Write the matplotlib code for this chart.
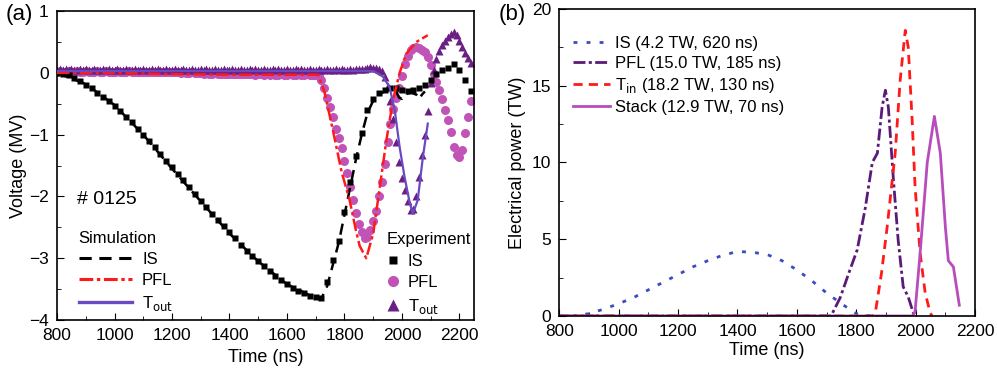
import numpy as np
import matplotlib
matplotlib.use('Agg')
from matplotlib import pyplot as plt
from matplotlib.ticker import MultipleLocator
from matplotlib.lines import Line2D

plt.rcParams['font.family'] = ['Liberation Sans', 'DejaVu Sans']
plt.rcParams['axes.unicode_minus'] = True

# (a) experiment IS, sampled every 20 ns from 800 to 2240 ns
t_is_exp = np.arange(800, 2241, 20)
is_exp = [0.00, -0.01, -0.04, -0.08, -0.13, -0.19, -0.25, -0.32, -0.39, -0.46,
          -0.53, -0.62, -0.71, -0.80, -0.90, -1.00, -1.10, -1.20, -1.31, -1.42,
          -1.53, -1.63, -1.74, -1.85, -1.96, -2.07, -2.17, -2.28, -2.38, -2.48,
          -2.58, -2.68, -2.78, -2.88, -2.97, -3.05, -3.13, -3.21, -3.28, -3.35,
          -3.42, -3.48, -3.53, -3.57, -3.61, -3.63, -3.64, -3.38, -3.03, -2.72,
          -2.25, -1.76, -1.35, -0.98, -0.60, -0.42, -0.33, -0.27, -0.24, -0.25,
          -0.28, -0.30, -0.28, -0.25, -0.20, -0.12, -0.02, 0.05, 0.08, 0.15,
          0.05, -0.12, -0.29]

# (a) experiment PFL and Tout, sampled every 10 ns from 800 to 2240 ns
t_fine = np.arange(800, 2241, 10)
pfl_exp = [0.02, 0.03, 0.02, 0.02, 0.03, 0.02, 0.02, 0.03, 0.02, 0.02,   # 800
           0.03, 0.02, 0.02, 0.02, 0.03, 0.02, 0.02, 0.03, 0.02, 0.02,   # 900
           0.02, 0.03, 0.02, 0.02, 0.02, 0.03, 0.02, 0.02, 0.02, 0.02,   # 1000
           0.02, 0.02, 0.01, 0.02, 0.02, 0.01, 0.02, 0.01, 0.01, 0.02,   # 1100
           0.01, 0.01, 0.01, 0.00, 0.01, 0.00, 0.00, 0.01, 0.00, 0.00,   # 1200
           0.00, -0.01, 0.00, -0.01, -0.01, 0.00, -0.01, -0.01, -0.02, -0.01,  # 1300
           -0.01, -0.02, -0.01, -0.02, -0.02, -0.01, -0.02, -0.02, -0.02, -0.03,  # 1400
           -0.02, -0.02, -0.03, -0.02, -0.03, -0.02, -0.03, -0.03, -0.02, -0.03,  # 1500
           -0.03, -0.02, -0.03, -0.03, -0.02, -0.03, -0.03, -0.02, -0.03, -0.03,  # 1600
           -0.03, -0.05, -0.12, -0.25, -0.40, -0.55, -0.72, -0.90, -1.06, -1.22,  # 1700
           -1.42, -1.62, -1.84, -2.06, -2.26, -2.45, -2.58, -2.67, -2.65, -2.55,  # 1800
           -2.40, -2.24, -2.00, -1.76, -1.48, -1.12, -0.82, -0.58, -0.40, -0.25,  # 1900
           -0.05, 0.14, 0.28, 0.37, 0.41, 0.42, 0.40, 0.37, 0.33, 0.25,         # 2000
           0.12, -0.02, -0.14, -0.27, -0.42, -0.60, -0.77, -0.96, -1.20, -1.33,  # 2100
           -1.36, -1.25, -0.98, -0.72, -0.45]                                  # 2200
tout_exp = [0.05, 0.06, 0.04, 0.06, 0.05, 0.07, 0.05, 0.04, 0.06, 0.05,   # 800
            0.06, 0.04, 0.05, 0.07, 0.05, 0.04, 0.06, 0.05, 0.06, 0.04,   # 900
            0.05, 0.06, 0.05, 0.04, 0.07, 0.05, 0.05, 0.06, 0.04, 0.05,   # 1000
            0.06, 0.05, 0.04, 0.06, 0.05, 0.07, 0.04, 0.05, 0.06, 0.05,   # 1100
            0.04, 0.06, 0.05, 0.05, 0.07, 0.04, 0.05, 0.06, 0.05, 0.04,   # 1200
            0.06, 0.05, 0.07, 0.04, 0.05, 0.06, 0.05, 0.04, 0.06, 0.05,   # 1300
            0.05, 0.07, 0.04, 0.05, 0.06, 0.05, 0.04, 0.06, 0.05, 0.07,   # 1400
            0.04, 0.05, 0.06, 0.05, 0.04, 0.06, 0.05, 0.07, 0.05, 0.04,   # 1500
            0.06, 0.05, 0.04, 0.06, 0.05, 0.07, 0.05, 0.04, 0.06, 0.05,   # 1600
            0.05, 0.06, 0.04, 0.05, 0.07, 0.05, 0.04, 0.06, 0.05, 0.06,   # 1700
            0.05, 0.04, 0.06, 0.05, 0.06, 0.07, 0.06, 0.07, 0.08, 0.09,   # 1800
            0.08, 0.08, 0.06, 0.03, -0.06, -0.22, -0.45, -0.75, -1.12, -1.45,  # 1900
            -1.70, -1.90, -2.08, -2.22, -2.21, -2.00, -1.68, -1.33, -1.00, -0.62,  # 2000
            -0.16, 0.05, 0.22, 0.36, 0.45, 0.52, 0.58, 0.63, 0.66, 0.62,       # 2100
            0.52, 0.42, 0.32, 0.24, 0.16]                                       # 2200

# (a) simulation
t_is_sim = [800, 900, 1000, 1100, 1200, 1300, 1400, 1500, 1600, 1680, 1720,
            1740, 1760, 1780, 1800, 1820, 1840, 1860, 1880, 1900, 1920, 1940,
            1960, 1980, 1990, 2000, 2010, 2030, 2050, 2060, 2070, 2080]
is_sim = [0.0, -0.18, -0.52, -1.0, -1.55, -2.08, -2.6, -3.05, -3.42, -3.6, -3.65,
          -3.45, -3.1, -2.75, -2.3, -1.85, -1.4, -1.0, -0.65, -0.45, -0.35, -0.3,
          -0.27, -0.3, -0.4, -0.42, -0.35, -0.32, -0.35, -0.42, -0.35, -0.3]
t_pfl_sim = [800, 1000, 1200, 1400, 1600, 1708, 1730, 1760, 1790, 1818, 1840,
             1853, 1876, 1900, 1923, 1946, 1969, 1992, 2015, 2050, 2090]
pfl_sim = [0.0, 0.0, -0.02, -0.03, -0.03, -0.03, -0.3, -0.93, -1.6, -2.06, -2.55,
           -2.8, -3.0, -2.6, -1.85, -1.09, -0.44, 0.0, 0.31, 0.5, 0.61]
t_tout_sim = [800, 1000, 1200, 1400, 1600, 1800, 1900, 1934, 1957, 1975, 1992,
              2009, 2027, 2038, 2055, 2073, 2090]
tout_sim = [0.03, 0.03, 0.03, 0.03, 0.03, 0.03, 0.03, -0.06, -0.23, -0.6, -1.2,
            -1.68, -2.1, -2.28, -2.06, -1.36, -0.82]

# (b) electrical power
t_is_pow = [800, 850, 900, 950, 1000, 1050, 1100, 1150, 1200, 1250, 1300, 1350,
            1400, 1450, 1500, 1550, 1600, 1650, 1700, 1750, 1800, 1850]
is_pow = [0.0, 0.02, 0.15, 0.45, 0.8, 1.2, 1.7, 2.2, 2.7, 3.2, 3.6, 3.95,
          4.2, 4.15, 4.0, 3.6, 3.0, 2.3, 1.5, 0.8, 0.15, 0.0]
t_pfl_pow = [800, 1000, 1200, 1400, 1600, 1715, 1746, 1775, 1803, 1830, 1854,
             1871, 1887, 1898, 1908, 1925, 1941, 1958, 1975, 1992, 2000]
pfl_pow = [0.0, 0.0, 0.0, 0.0, 0.0, 0.0, 1.2, 2.8, 4.3, 7.0, 10.0,
           10.6, 13.6, 14.7, 13.6, 8.9, 4.95, 1.9, 1.24, 0.2, 0.0]
t_tin_pow = [800, 1000, 1200, 1400, 1600, 1800, 1855, 1864, 1885, 1904, 1931,
             1948, 1965, 1975, 1988, 1998, 2015, 2032, 2049, 2055]
tin_pow = [0.0, 0.0, 0.0, 0.0, 0.0, 0.0, 0.0, 0.2, 2.8, 5.8, 10.6,
           15.4, 18.6, 17.5, 12.8, 8.4, 4.1, 1.5, 0.2, 0.0]
t_stack_pow = [800, 1000, 1200, 1400, 1600, 1800, 1990, 1998, 2015, 2039, 2063,
               2083, 2100, 2110, 2127, 2147]
stack_pow = [0.0, 0.0, 0.0, 0.0, 0.0, 0.0, 0.0, 0.3, 4.1, 10.0, 13.0,
             10.6, 5.8, 3.6, 3.2, 0.7]

c_black = 'black'
c_red = '#ff1a1a'
c_tout = '#6a4ac0'
c_circ = '#c253b6'
c_tri = '#6b1f85'
c_blue = '#3b4cc0'
c_pfl = '#5a1a78'
c_stack = '#b84cbc'

is_dash = (4.5, 2.8)
pfl_dash = (5, 1.4, 1.3, 1.4)

fig = plt.figure(figsize=(9.97, 3.70), dpi=100)
ax1 = fig.add_axes([0.0572, 0.135, 0.418, 0.835])
ax2 = fig.add_axes([0.561, 0.146, 0.417, 0.830])

# ---- panel (a)
ax1.plot(t_fine, pfl_exp, 'o', color=c_circ, ms=6.5, mec='none', zorder=2)
ax1.plot(t_fine, tout_exp, '^', color=c_tri, ms=6, mec='none', zorder=2)
ax1.plot(t_is_exp, is_exp, 's', color=c_black, ms=5, mec='none', zorder=3)
ax1.plot(t_is_sim, is_sim, color=c_black, lw=1.8, dashes=is_dash, zorder=4)
ax1.plot(t_pfl_sim, pfl_sim, color=c_red, lw=1.8, dashes=pfl_dash, zorder=4)
ax1.plot(t_tout_sim, tout_sim, color=c_tout, lw=1.6, zorder=4)

ax1.set_xlim(800, 2250)
ax1.set_ylim(-4, 1)
ax1.xaxis.set_major_locator(MultipleLocator(200))
ax1.xaxis.set_minor_locator(MultipleLocator(100))
ax1.yaxis.set_major_locator(MultipleLocator(1))
ax1.yaxis.set_minor_locator(MultipleLocator(0.5))
ax1.set_xlabel('Time (ns)', fontsize=13, labelpad=4)
ax1.set_ylabel('Voltage (MV)', fontsize=13, labelpad=1)
ax1.text(870, -2.05, '# 0125', fontsize=14, va='center')

sim_handles = [Line2D([], [], color=c_black, lw=2.2, dashes=(4, 2.5)),
               Line2D([], [], color=c_red, lw=2.2, dashes=(4.5, 1.2, 1.1, 1.2)),
               Line2D([], [], color=c_tout, lw=2.4)]
leg1 = ax1.legend(sim_handles, ['IS', 'PFL', r'T$_{\rm out}$'], title='Simulation',
                  loc='lower left', bbox_to_anchor=(0.02, -0.02), frameon=False,
                  fontsize=12, title_fontsize=12, handlelength=3.2,
                  handletextpad=0.6, labelspacing=0.35, borderpad=0.3,
                  alignment='left')
ax1.add_artist(leg1)
exp_handles = [Line2D([], [], ls='none', marker='s', color=c_black, ms=6, mec='none'),
               Line2D([], [], ls='none', marker='o', color=c_circ, ms=8, mec='none'),
               Line2D([], [], ls='none', marker='^', color=c_tri, ms=8, mec='none')]
ax1.legend(exp_handles, ['IS', 'PFL', r'T$_{\rm out}$'], title='Experiment',
           loc='lower left', bbox_to_anchor=(0.758, -0.03), frameon=False,
           fontsize=12, title_fontsize=12, handlelength=0.8,
           handletextpad=0.5, labelspacing=0.4, borderpad=0.3,
           alignment='left')

# ---- panel (b)
ax2.plot(t_is_pow, is_pow, color=c_blue, lw=2, dashes=(1.4, 3.3), label='IS (4.2 TW, 620 ns)')
ax2.plot(t_pfl_pow, pfl_pow, color=c_pfl, lw=2, dashes=(4.3, 1.2, 1.1, 1.2), label='PFL (15.0 TW, 185 ns)')
ax2.plot(t_tin_pow, tin_pow, color=c_red, lw=2, dashes=(3.3, 2.2), label=r'T$_{\rm in}$ (18.2 TW, 130 ns)')
ax2.plot(t_stack_pow, stack_pow, color=c_stack, lw=2, label='Stack (12.9 TW, 70 ns)')

ax2.set_xlim(800, 2200)
ax2.set_ylim(0, 20)
ax2.xaxis.set_major_locator(MultipleLocator(200))
ax2.xaxis.set_minor_locator(MultipleLocator(100))
ax2.yaxis.set_major_locator(MultipleLocator(5))
ax2.yaxis.set_minor_locator(MultipleLocator(2.5))
ax2.set_xlabel('Time (ns)', fontsize=13, labelpad=2)
ax2.set_ylabel('Electrical power (TW)', fontsize=13, labelpad=4)
ax2.legend(loc='upper left', bbox_to_anchor=(0.034, 0.913), frameon=False,
           fontsize=12, handlelength=2.2, handletextpad=0.3, labelspacing=0.3,
           borderpad=0, borderaxespad=0)

for ax in (ax1, ax2):
    ax.tick_params(which='both', direction='in', labelsize=12.5, top=False, right=False)
    ax.tick_params(which='major', length=5, pad=6)
    ax.tick_params(which='minor', length=3)
    for s in ax.spines.values():
        s.set_linewidth(1.2)

fig.text(0.006, 0.962, '(a)', fontsize=16, va='center')
fig.text(0.500, 0.962, '(b)', fontsize=16, va='center')

fig.savefig('out.png', dpi=100)
